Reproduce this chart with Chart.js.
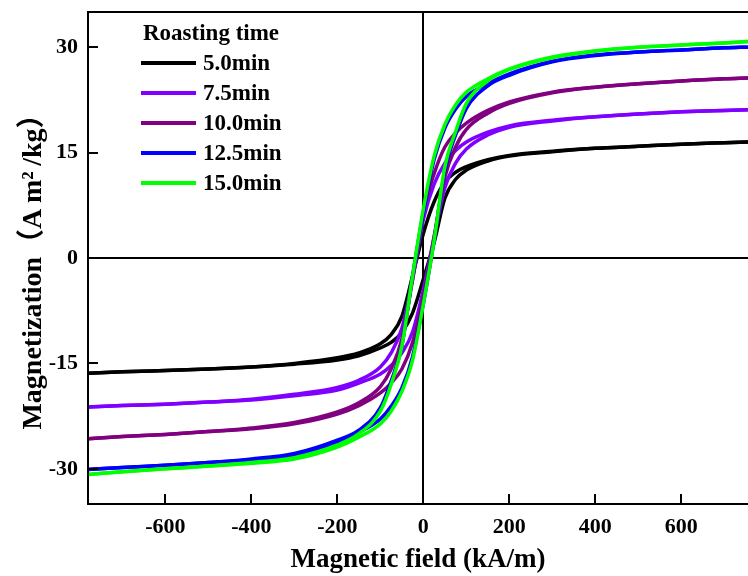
<!DOCTYPE html>
<html>
<head>
<meta charset="utf-8">
<script src="https://cdn.jsdelivr.net/npm/chart.js@4.4.1/dist/chart.umd.min.js"></script>
<style>
  html, body { margin: 0; padding: 0; background: #fff; }
  #wrap { position: relative; width: 748px; height: 576px; overflow: hidden; }
  #legend { position: absolute; left: 0; top: 0; font-family: "Liberation Serif", "Times New Roman", serif; font-weight: bold; color: #000; }
  #legend .title { position: absolute; left: 143px; top: 19px; font-size: 23px; line-height: 28px; white-space: nowrap; }
  #legend .row { position: absolute; left: 141px; height: 28px; white-space: nowrap; }
  #legend .sw { position: absolute; left: 0; top: 12px; width: 55px; height: 4px; }
  #legend .lb { position: absolute; left: 62px; top: 0; font-size: 23px; line-height: 28px; }
</style>
</head>
<body>
<div id="wrap">
  <canvas id="c" width="748" height="576"></canvas>
  <div id="legend"></div>
</div>
<script>
// ---- data ----
const FIELD = [-780, -700, -600, -500, -400, -300, -200, -150, -100, -75, -50, -25, 0, 25, 50, 75, 100, 150, 200, 300, 400, 500, 600, 700, 755];

const SERIES_NAMES = ["5.0min", "7.5min", "10.0min", "12.5min", "15.0min"];
const SERIES_COLORS = ["#000000", "#8000ff", "#800080", "#0000ff", "#00ff00"];

// descending-field branch (upper), listed in ascending field order
const M_5_0_UPPER  = [-16.4, -16.2, -16.0, -15.8, -15.5, -15.0, -14.2, -13.5, -12.2, -10.9, -8.3, -2.5, 3.5, 8.0, 10.8, 12.2, 13.0, 14.0, 14.6, 15.2, 15.6, 15.9, 16.2, 16.4, 16.5];
const M_5_0_LOWER  = [-16.4, -16.2, -16.0, -15.8, -15.5, -15.1, -14.5, -13.9, -12.8, -12.0, -10.6, -7.8, -3.0, 2.2, 8.5, 11.2, 12.5, 13.8, 14.5, 15.1, 15.6, 15.9, 16.2, 16.4, 16.5];
const M_7_5_UPPER  = [-21.2, -21.0, -20.8, -20.5, -20.1, -19.4, -18.4, -17.4, -15.5, -13.5, -10.0, -3.0, 5.5, 10.5, 13.5, 15.3, 16.5, 17.9, 18.8, 19.6, 20.1, 20.5, 20.8, 21.0, 21.1];
const M_7_5_LOWER  = [-21.2, -21.0, -20.8, -20.5, -20.2, -19.6, -18.8, -17.8, -16.5, -15.3, -13.5, -10.5, -4.5, 3.0, 10.0, 13.5, 15.5, 17.5, 18.6, 19.5, 20.1, 20.5, 20.8, 21.0, 21.1];
const M_10_0_UPPER = [-25.7, -25.4, -25.1, -24.7, -24.2, -23.4, -21.9, -20.6, -18.3, -15.8, -11.5, -3.0, 6.5, 12.0, 15.8, 17.8, 19.2, 21.0, 22.2, 23.6, 24.3, 24.8, 25.2, 25.5, 25.6];
const M_10_0_LOWER = [-25.7, -25.4, -25.1, -24.7, -24.3, -23.6, -22.2, -21.0, -19.2, -17.8, -15.8, -12.0, -5.5, 3.0, 11.5, 15.8, 18.3, 20.6, 22.0, 23.5, 24.3, 24.8, 25.2, 25.5, 25.6];
const M_12_5_UPPER = [-30.1, -29.8, -29.5, -29.1, -28.6, -27.8, -25.9, -24.5, -21.3, -17.5, -12.5, -2.5, 6.5, 14.0, 18.5, 21.2, 23.0, 24.8, 26.2, 28.0, 28.9, 29.3, 29.6, 29.9, 30.0];
const M_12_5_LOWER = [-30.1, -29.8, -29.5, -29.1, -28.7, -28.0, -26.2, -24.8, -22.9, -21.1, -18.5, -14.0, -6.5, 2.5, 12.5, 17.5, 21.3, 24.5, 26.0, 27.9, 28.8, 29.3, 29.6, 29.9, 30.0];
const M_15_0_UPPER = [-30.8, -30.4, -30.0, -29.6, -29.1, -28.4, -26.6, -25.0, -21.8, -18.0, -12.5, -2.5, 7.0, 14.5, 19.0, 21.8, 23.6, 25.5, 26.9, 28.6, 29.5, 30.0, 30.3, 30.6, 30.8];
const M_15_0_LOWER = [-30.8, -30.4, -30.0, -29.6, -29.2, -28.6, -26.9, -25.5, -23.6, -21.8, -19.0, -14.5, -6.5, 2.5, 13.0, 18.0, 22.0, 25.2, 26.8, 28.5, 29.4, 30.0, 30.3, 30.6, 30.8];

const X_TICKS = [-600, -400, -200, 0, 200, 400, 600];
const Y_TICKS = [-30, -15, 0, 15, 30];

const X_TITLE = "Magnetic field (kA/m)";
const Y_TITLE = "Magnetization\uFF08A\u2009m\u00B2\u2009/kg\uFF09";
const LEGEND_TITLE = "Roasting time";

// ---- build datasets ----
const BRANCHES = [
  [M_5_0_UPPER, M_5_0_LOWER],
  [M_7_5_UPPER, M_7_5_LOWER],
  [M_10_0_UPPER, M_10_0_LOWER],
  [M_12_5_UPPER, M_12_5_LOWER],
  [M_15_0_UPPER, M_15_0_LOWER]
];
const datasets = [];
BRANCHES.forEach((pair, i) => {
  pair.forEach((arr, j) => {
    datasets.push({
      label: SERIES_NAMES[i] + (j === 0 ? " (down)" : " (up)"),
      data: FIELD.map((x, k) => ({ x: x, y: arr[k] })),
      borderColor: SERIES_COLORS[i],
      backgroundColor: SERIES_COLORS[i],
      borderWidth: 3.5,
      pointRadius: 0,
      fill: false,
      showLine: true,
      cubicInterpolationMode: 'monotone',
      order: (BRANCHES.length - i) * 2 - j
    });
  });
});

// ---- legend (HTML text) ----
const lg = document.getElementById('legend');
const t = document.createElement('div');
t.className = 'title'; t.textContent = LEGEND_TITLE; lg.appendChild(t);
SERIES_NAMES.forEach((n, i) => {
  const r = document.createElement('div');
  r.className = 'row';
  r.style.top = (49 + i * 30) + 'px';
  const s = document.createElement('div'); s.className = 'sw'; s.style.background = SERIES_COLORS[i];
  const l = document.createElement('div'); l.className = 'lb'; l.textContent = n;
  r.appendChild(s); r.appendChild(l); lg.appendChild(r);
});

// ---- frame, zero lines, inward ticks ----
const framePlugin = {
  id: 'frame',
  beforeDatasetsDraw(chart) {
    const { ctx, chartArea: a, scales: { x, y } } = chart;
    ctx.save();
    ctx.strokeStyle = '#000';
    ctx.lineWidth = 2;
    const x0 = Math.round(x.getPixelForValue(0));
    const y0 = Math.round(y.getPixelForValue(0));
    ctx.beginPath();
    ctx.moveTo(x0, a.top); ctx.lineTo(x0, a.bottom);
    ctx.moveTo(a.left, y0); ctx.lineTo(a.right, y0);
    ctx.stroke();
    ctx.restore();
  },
  afterDraw(chart) {
    const { ctx, chartArea: a, scales: { x, y } } = chart;
    ctx.save();
    ctx.strokeStyle = '#000';
    ctx.lineWidth = 2;
    ctx.beginPath();
    ctx.moveTo(a.left, a.top); ctx.lineTo(a.right, a.top);
    ctx.moveTo(a.left, a.top - 1); ctx.lineTo(a.left, a.bottom + 1);
    ctx.moveTo(a.left - 1, a.bottom); ctx.lineTo(a.right, a.bottom);
    X_TICKS.forEach(v => {
      const px = Math.round(x.getPixelForValue(v));
      ctx.moveTo(px, a.bottom); ctx.lineTo(px, a.bottom - 10);
    });
    Y_TICKS.forEach(v => {
      const py = Math.round(y.getPixelForValue(v));
      ctx.moveTo(a.left, py); ctx.lineTo(a.left + 10, py);
    });
    ctx.stroke();
    ctx.restore();
  }
};

const FONT = "'Liberation Serif', 'Times New Roman', 'Noto Sans CJK SC', serif";

new Chart(document.getElementById('c'), {
  type: 'scatter',
  data: { datasets },
  options: {
    responsive: false,
    animation: false,
    devicePixelRatio: 1,
    layout: { padding: { top: 12, right: 0, left: 0, bottom: 0 } },
    plugins: { legend: { display: false }, tooltip: { enabled: false } },
    scales: {
      x: {
        type: 'linear', min: -780, max: 755,
        afterBuildTicks: s => { s.ticks = X_TICKS.map(v => ({ value: v })); },
        afterFit: s => { s.height = 72; s.paddingLeft = 0; s.paddingRight = 0; },
        grid: { display: false, drawTicks: false },
        border: { display: false },
        ticks: { color: '#000', padding: 10, font: { family: FONT, size: 22, weight: 'bold' } },
        title: { display: true, text: X_TITLE, color: '#000', padding: { top: 0, bottom: 0 },
                 font: { family: FONT, size: 27, weight: 'bold' } }
      },
      y: {
        type: 'linear', min: -35, max: 35,
        afterBuildTicks: s => { s.ticks = Y_TICKS.map(v => ({ value: v })); },
        afterFit: s => { s.width = 88; s.paddingTop = 0; s.paddingBottom = 0; },
        grid: { display: false, drawTicks: false },
        border: { display: false },
        ticks: { color: '#000', padding: 10, font: { family: FONT, size: 22, weight: 'bold' } },
        title: { display: true, text: Y_TITLE + '\u2002', color: '#000', padding: { top: 17, bottom: 0 },
                 font: { family: FONT, size: 28, weight: 'bold' } }
      }
    }
  },
  plugins: [framePlugin]
});
</script>
</body>
</html>
